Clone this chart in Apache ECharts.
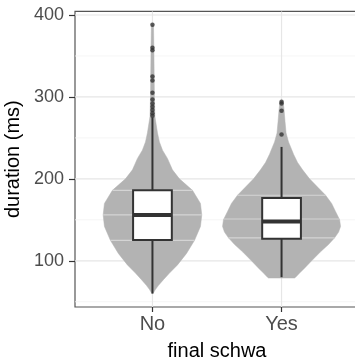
<!DOCTYPE html>
<html><head><meta charset="utf-8">
<script src="https://cdn.jsdelivr.net/npm/echarts@6/dist/echarts.min.js"></script>
<style>html,body{margin:0;padding:0;background:#fff}#c{width:355px;height:360px}</style>
</head><body><div id="c"></div>
<script>
// ---- data ----
const categories = ['No', 'Yes'];
const yTicks = [100, 200, 300, 400];
const yMinorTicks = [50, 150, 250, 350];

// violin outline: duration values (descending) and half-widths (x-axis units)
const noViolinY    = [388, 360, 330, 300, 276, 256, 245, 235, 225, 211, 200, 186, 170, 156, 142, 125, 109, 95, 85, 77, 70, 65, 60];
const noViolinHalf = [0.008, 0.011, 0.013, 0.015, 0.019, 0.039, 0.054, 0.078, 0.116, 0.155, 0.209, 0.31, 0.372, 0.382, 0.372, 0.326, 0.264, 0.194, 0.132, 0.085, 0.047, 0.023, 0.004];
const yesViolinY    = [294, 285, 270, 256, 245, 239, 230, 220, 211, 200, 190, 180, 170, 160, 150, 142, 135, 128, 120, 111, 100, 91, 85, 80, 79];
const yesViolinHalf = [0.012, 0.019, 0.027, 0.035, 0.054, 0.07, 0.093, 0.124, 0.163, 0.217, 0.279, 0.341, 0.388, 0.419, 0.45, 0.457, 0.442, 0.411, 0.364, 0.302, 0.233, 0.178, 0.14, 0.109, 0.101];
const noQuantiles  = [125, 156, 186];
const yesQuantiles = [128, 151, 180];

// box stats: lower whisker, Q1, median, Q3, upper whisker
const noBox  = [60, 125.5, 156, 186, 275];
const yesBox = [80, 127, 148, 176.5, 239];
const noOutliers  = [388, 360, 357, 325, 320, 305, 297, 292, 288, 284, 280, 277];
const yesOutliers = [294, 292, 283, 254];

// ---- chart ----
const chart = echarts.init(document.getElementById('c'), null, {renderer: 'canvas'});
const xMin = 0.4, xMax = 2.6, yMin = 43.6, yMax = 404.4;
const boxHalf = 0.15;
const dark = '#333333';
const font = '"Liberation Sans", Arial, sans-serif';
const violins = [
  {y: noViolinY, h: noViolinHalf, q: noQuantiles},
  {y: yesViolinY, h: yesViolinHalf, q: yesQuantiles}
];
const boxes = [noBox, yesBox];

function halfAt(v, ys, hs) {
  for (let i = 0; i < ys.length - 1; i++) {
    if (v <= ys[i] && v >= ys[i + 1]) {
      const t = (v - ys[i + 1]) / (ys[i] - ys[i + 1]);
      return hs[i + 1] + t * (hs[i] - hs[i + 1]);
    }
  }
  return 0;
}

const gridItems = [];
yMinorTicks.forEach(v => gridItems.push({dir: 'h', v: v, minor: true}));
yTicks.forEach(v => gridItems.push({dir: 'h', v: v, minor: false}));
categories.forEach((c, i) => gridItems.push({dir: 'v', v: i + 1, minor: false}));

const outlierData = [];
noOutliers.forEach(v => outlierData.push([1, v]));
yesOutliers.forEach(v => outlierData.push([2, v]));

const option = {
  animation: false,
  backgroundColor: '#ffffff',
  grid: {left: 75, top: 11.4, width: 284, height: 295.6, show: true, borderColor: '#555555', borderWidth: 1.2,
         backgroundColor: 'transparent', containLabel: false, outerBoundsMode: 'none'},
  xAxis: {
    type: 'value', min: xMin, max: xMax,
    splitLine: {show: false},
    axisLine: {show: false},
    axisTick: {show: true, customValues: [1, 2], length: 5, lineStyle: {color: dark, width: 1.2}},
    axisLabel: {customValues: [1, 2], formatter: v => categories[Math.round(v) - 1], color: '#4d4d4d', fontSize: 20, fontFamily: font, margin: 7},
    name: 'final schwa', nameLocation: 'middle', nameGap: 34,
    nameTextStyle: {color: '#000', fontSize: 20, fontFamily: font}
  },
  yAxis: {
    type: 'value', min: yMin, max: yMax,
    splitLine: {show: false},
    axisLine: {show: false},
    axisTick: {show: true, customValues: yTicks, length: 6, lineStyle: {color: dark, width: 1.2}},
    axisLabel: {customValues: yTicks, color: '#4d4d4d', fontSize: 18, fontFamily: font, margin: 11},
    name: 'duration (ms)', nameLocation: 'middle', nameGap: 44,
    nameTextStyle: {color: '#000', fontSize: 20, fontFamily: font}
  },
  series: [
    {
      type: 'custom', silent: true, z: 1,
      data: gridItems.map(() => [1, 100]),
      renderItem: function (params, api) {
        const g = gridItems[params.dataIndex];
        let p1, p2;
        if (g.dir === 'h') { p1 = api.coord([xMin, g.v]); p2 = api.coord([xMax, g.v]); }
        else { p1 = api.coord([g.v, yMin]); p2 = api.coord([g.v, yMax]); }
        return {type: 'line', shape: {x1: p1[0], y1: p1[1], x2: p2[0], y2: p2[1]},
          style: {stroke: g.minor ? '#f2f2f2' : '#e6e6e6', lineWidth: g.minor ? 0.8 : 1.2}};
      }
    },
    {
      type: 'custom', silent: true, z: 2,
      data: [[1, 150], [2, 150]],
      renderItem: function (params, api) {
        const vi = violins[params.dataIndex];
        const c = params.dataIndex + 1;
        const pts = [];
        for (let i = 0; i < vi.y.length; i++) pts.push(api.coord([c + vi.h[i], vi.y[i]]));
        for (let i = vi.y.length - 1; i >= 0; i--) pts.push(api.coord([c - vi.h[i], vi.y[i]]));
        const children = [{type: 'polygon', shape: {points: pts}, style: {fill: '#b3b3b3', stroke: '#b3b3b3', lineWidth: 0.5}}];
        vi.q.forEach(q => {
          const h = halfAt(q, vi.y, vi.h);
          const a = api.coord([c - h, q]), b = api.coord([c + h, q]);
          children.push({type: 'line', shape: {x1: a[0], y1: a[1], x2: b[0], y2: b[1]}, style: {stroke: '#d4d4d4', lineWidth: 1.2}});
        });
        return {type: 'group', children: children};
      }
    },
    {
      type: 'custom', silent: true, z: 3,
      data: [[1, 150], [2, 150]],
      renderItem: function (params, api) {
        const b = boxes[params.dataIndex];
        const c = params.dataIndex + 1;
        const wl = api.coord([c, b[0]]), q1 = api.coord([c, b[1]]), q3 = api.coord([c, b[3]]), wh = api.coord([c, b[4]]);
        const tl = api.coord([c - boxHalf, b[3]]), br = api.coord([c + boxHalf, b[1]]);
        const ml = api.coord([c - boxHalf, b[2]]), mr = api.coord([c + boxHalf, b[2]]);
        return {type: 'group', children: [
          {type: 'line', shape: {x1: wl[0], y1: wl[1], x2: q1[0], y2: q1[1]}, style: {stroke: dark, lineWidth: 2}},
          {type: 'line', shape: {x1: q3[0], y1: q3[1], x2: wh[0], y2: wh[1]}, style: {stroke: dark, lineWidth: 2}},
          {type: 'rect', shape: {x: tl[0], y: tl[1], width: br[0] - tl[0], height: br[1] - tl[1]}, style: {fill: '#ffffff', stroke: dark, lineWidth: 2}},
          {type: 'line', shape: {x1: ml[0], y1: ml[1], x2: mr[0], y2: mr[1]}, style: {stroke: dark, lineWidth: 4}}
        ]};
      }
    },
    {
      type: 'scatter', silent: true, z: 4,
      data: outlierData, symbol: 'circle', symbolSize: 4.5,
      itemStyle: {color: dark}
    }
  ]
};
chart.setOption(option);
</script>
</body></html>
